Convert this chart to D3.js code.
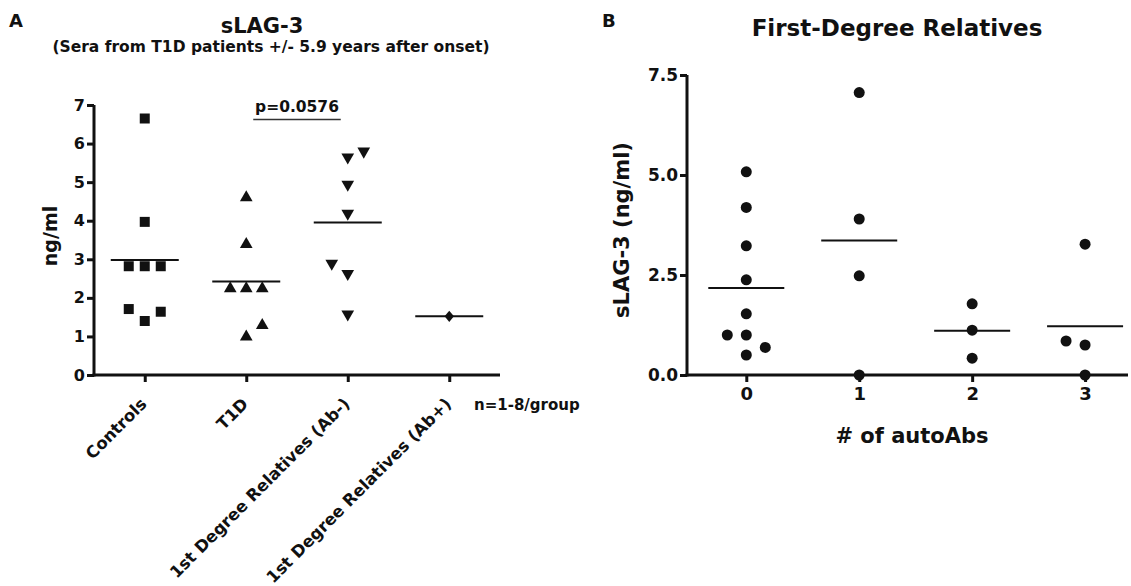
<!DOCTYPE html>
<html><head><meta charset="utf-8">
<script src="https://cdn.jsdelivr.net/npm/d3@7"></script>
<style>
body{margin:0;background:#fff;}
text{font-family:"DejaVu Sans",sans-serif;font-weight:bold;fill:#111;}
</style></head>
<body><svg id="c" width="1131" height="586"></svg>
<script>
// ---- Panel A data ----
const catsA = ["Controls", "T1D", "1st Degree Relatives (Ab-)", "1st Degree Relatives (Ab+)"];
const controls = [6.65, 3.97, 2.82, 2.82, 2.82, 1.40, 1.64, 1.71];
const t1d = [4.60, 3.39, 2.24, 2.24, 2.24, 0.99, 1.29];
const fdrAbNeg = [4.94, 5.65, 5.80, 4.19, 2.63, 2.89, 1.58];
const fdrAbPos = [1.52];
const ticksA = [0, 1, 2, 3, 4, 5, 6, 7];
const pValue = "p=0.0576";
// ---- Panel B data ----
const catsB = [0, 1, 2, 3];
const autoAbs0 = [5.08, 4.19, 3.23, 2.38, 1.53, 1.00, 0.50, 1.00, 0.69];
const autoAbs1 = [7.06, 3.90, 2.48, 0.00];
const autoAbs2 = [1.78, 1.12, 0.42];
const autoAbs3 = [3.27, 0.00, 0.75, 0.85];
const ticksB = [0, 2.5, 5, 7.5];

const svg = d3.select("#c");
const ink = "#111";

function place(values, y, step, thresh) {
  const placed = [];
  values.forEach((v, i) => {
    const py = y(v);
    const order = i % 2 === 0 ? [0, 1, -1, 2, -2] : [0, -1, 1, -2, 2];
    for (const k of order) {
      const dx = k * step;
      if (placed.every(p => Math.hypot(p.dx - dx, p.py - py) >= thresh)) { placed.push({v, dx, py}); break; }
    }
  });
  return placed;
}

// ================= Panel A =================
const xA = d3.scalePoint().domain(catsA).range([94, 500]).padding(0.5);
const yA = d3.scaleLinear().domain([0, 7]).range([375, 105]);
const gA = svg.append("g");

const yAxA = gA.append("g").attr("transform", "translate(94,0)")
  .call(d3.axisLeft(yA).tickValues(ticksA).tickFormat(d3.format("d")).tickSize(7).tickPadding(2));
const xAxA = gA.append("g").attr("transform", "translate(0,375)")
  .call(d3.axisBottom(xA).tickSize(7).tickFormat(""));
[yAxA, xAxA].forEach(a => {
  a.select(".domain").attr("stroke", ink).attr("stroke-width", 3);
  a.selectAll(".tick line").attr("stroke", ink).attr("stroke-width", 3);
});
yAxA.select(".domain").attr("d", "M0,105V376.5");
xAxA.select(".domain").attr("d", "M92.5,0H500");
yAxA.selectAll(".tick text").style("font-size", "16px").attr("fill", ink);

// category labels
gA.selectAll("text.cat").data(catsA).join("text").attr("class", "cat")
  .attr("transform", d => `translate(${xA(d) + 3},405) rotate(-45)`)
  .attr("text-anchor", "end").style("font-size", "16.5px").text(d => d);

const groupsA = [
  {vals: controls, sym: d3.symbolSquare, size: 100, rot: 0},
  {vals: t1d, sym: d3.symbolTriangle, size: 70, rot: 0},
  {vals: fdrAbNeg, sym: d3.symbolTriangle, size: 70, rot: 180},
  {vals: fdrAbPos, sym: d3.symbolDiamond, size: 45, rot: 0}
];
groupsA.forEach((g, i) => {
  const cx = xA(catsA[i]);
  const pts = place(g.vals, yA, 16, 13);
  const path = d3.symbol().type(g.sym).size(g.size)();
  gA.append("g").selectAll("path").data(pts).join("path")
    .attr("d", path).attr("fill", ink)
    .attr("transform", d => `translate(${cx + d.dx},${d.py}) rotate(${g.rot})` + (g.sym === d3.symbolDiamond ? " scale(1.3,0.9)" : ""));
  const m = d3.mean(g.vals);
  gA.append("line").attr("x1", cx - 34).attr("x2", cx + 34)
    .attr("y1", yA(m)).attr("y2", yA(m)).attr("stroke", ink).attr("stroke-width", 2);
});

// p-value bracket
gA.append("line").attr("x1", xA(catsA[1]) + 7).attr("x2", xA(catsA[2]) - 7)
  .attr("y1", 119.5).attr("y2", 119.5).attr("stroke", "#333").attr("stroke-width", 1.5);
gA.append("text").attr("x", (xA(catsA[1]) + xA(catsA[2])) / 2).attr("y", 112)
  .attr("text-anchor", "middle").style("font-size", "15.5px").text(pValue);

gA.append("text").attr("transform", "translate(57,236) rotate(-90)")
  .attr("text-anchor", "middle").style("font-size", "19px").text("ng/ml");
gA.append("text").attr("x", 474).attr("y", 410).style("font-size", "15px").text("n=1-8/group");

gA.append("text").attr("x", 262).attr("y", 33).attr("text-anchor", "middle").style("font-size", "21px").text("sLAG-3");
gA.append("text").attr("x", 271).attr("y", 52).attr("text-anchor", "middle").style("font-size", "15.5px")
  .text("(Sera from T1D patients +/- 5.9 years after onset)");
gA.append("text").attr("x", 9).attr("y", 27).style("font-size", "18px").text("A");

// ================= Panel B =================
const xB = d3.scaleLinear().domain([-0.525, 3.38]).range([687, 1128]);
const yB = d3.scaleLinear().domain([0, 7.5]).range([375, 75]);
const gB = svg.append("g");

const yAxB = gB.append("g").attr("transform", "translate(687,0)")
  .call(d3.axisLeft(yB).tickValues(ticksB).tickFormat(d3.format(".1f")).tickSize(7).tickPadding(2));
const xAxB = gB.append("g").attr("transform", "translate(0,375)")
  .call(d3.axisBottom(xB).tickValues(catsB).tickFormat(d3.format("d")).tickSize(7).tickPadding(5));
[yAxB, xAxB].forEach(a => {
  a.select(".domain").attr("stroke", ink).attr("stroke-width", 3);
  a.selectAll(".tick line").attr("stroke", ink).attr("stroke-width", 3);
});
yAxB.select(".domain").attr("d", "M0,75V376.5");
xAxB.select(".domain").attr("d", "M685.5,0H1128");
yAxB.selectAll(".tick text").style("font-size", "17px").attr("fill", ink);
xAxB.selectAll(".tick text").style("font-size", "18px").attr("fill", ink);

const groupsB = [autoAbs0, autoAbs1, autoAbs2, autoAbs3];
groupsB.forEach((vals, i) => {
  const cx = xB(catsB[i]);
  const pts = place(vals, yB, 19, 13);
  gB.append("g").selectAll("circle").data(pts).join("circle")
    .attr("cx", d => cx + d.dx).attr("cy", d => d.py).attr("r", 5.5).attr("fill", ink);
  const m = d3.mean(vals);
  gB.append("line").attr("x1", cx - 38).attr("x2", cx + 38)
    .attr("y1", yB(m)).attr("y2", yB(m)).attr("stroke", ink).attr("stroke-width", 2);
});

gB.append("text").attr("transform", "translate(629,230) rotate(-90)")
  .attr("text-anchor", "middle").style("font-size", "21px").text("sLAG-3 (ng/ml)");
gB.append("text").attr("x", 912).attr("y", 443).attr("text-anchor", "middle").style("font-size", "21px").text("# of autoAbs");
gB.append("text").attr("x", 897).attr("y", 36).attr("text-anchor", "middle").style("font-size", "23px").text("First-Degree Relatives");
gB.append("text").attr("x", 602).attr("y", 27).style("font-size", "18px").text("B");
</script></body></html>
